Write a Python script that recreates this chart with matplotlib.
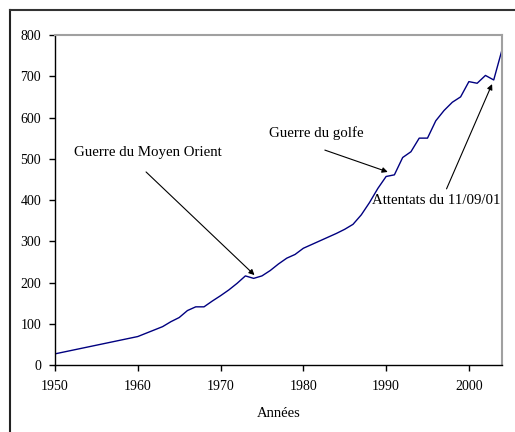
import matplotlib
matplotlib.use("Agg")
import matplotlib.pyplot as plt
from matplotlib.lines import Line2D

years = [1950, 1960, 1961, 1962, 1963, 1964, 1965, 1966, 1967, 1968, 1969,
         1970, 1971, 1972, 1973, 1974, 1975, 1976, 1977, 1978, 1979,
         1980, 1981, 1982, 1983, 1984, 1985, 1986, 1987, 1988, 1989,
         1990, 1991, 1992, 1993, 1994, 1995, 1996, 1997, 1998, 1999,
         2000, 2001, 2002, 2003, 2004]
values = [27, 69, 77, 85, 93, 105, 115, 132, 141, 141, 155,
          168, 182, 198, 216, 210, 216, 229, 245, 259, 268,
          283, 292, 301, 310, 319, 329, 341, 364, 394, 428,
          457, 461, 503, 517, 550, 550, 592, 617, 637, 650,
          687, 683, 702, 691, 764]

x_ticks = [1950, 1960, 1970, 1980, 1990, 2000]
y_ticks = [0, 100, 200, 300, 400, 500, 600, 700, 800]

ann_texts = ["Guerre du Moyen Orient", "Guerre du golfe", "Attentats du 11/09/01"]
ann_text_pos = [(1952.3, 515), (1975.85, 562), (1988.3, 400)]
ann_tail = [(1961.0, 468), (1982.6, 521), (1997.3, 427)]
ann_head = [(1974.1, 218), (1990.2, 468), (2002.8, 681)]

plt.rcParams['font.family'] = ['Liberation Serif', 'DejaVu Serif']

W, H = 515, 432
fig = plt.figure(figsize=(W / 100, H / 100), dpi=100)
ax = fig.add_axes([55 / W, 1 - 365 / H, 447 / W, 330 / H])

ax.plot(years, values, color='#000080', lw=1.0)
ax.set_xlim(1950, 2004)
ax.set_ylim(0, 800)
ax.set_xticks(x_ticks)
ax.set_yticks(y_ticks)
ax.tick_params(direction='out', length=4, width=1, labelsize=10, colors='black')
ax.tick_params(axis='x', pad=7)
ax.tick_params(axis='y', pad=6)
for s in ['left', 'bottom']:
    ax.spines[s].set_color('black')
    ax.spines[s].set_linewidth(1)
for s in ['top', 'right']:
    ax.spines[s].set_color('#a0a0a0')
    ax.spines[s].set_linewidth(1.5)
ax.set_xlabel('Années', fontsize=10.5, labelpad=10)

for t, tp, tail, head in zip(ann_texts, ann_text_pos, ann_tail, ann_head):
    ax.text(tp[0], tp[1], t, fontsize=10.7, ha='left', va='center')
    ax.annotate('', xy=head, xytext=tail,
                arrowprops=dict(arrowstyle='-|>', color='black', lw=0.8,
                                mutation_scale=8, shrinkA=0, shrinkB=0))

# outer frame
fig.add_artist(Line2D([10 / W, 10 / W], [0, 1 - 10 / H], transform=fig.transFigure,
                      color='#222222', lw=1.5))
fig.add_artist(Line2D([10 / W, 1], [1 - 10 / H, 1 - 10 / H], transform=fig.transFigure,
                      color='#333333', lw=1.5))

fig.savefig('out.png', dpi=100)
